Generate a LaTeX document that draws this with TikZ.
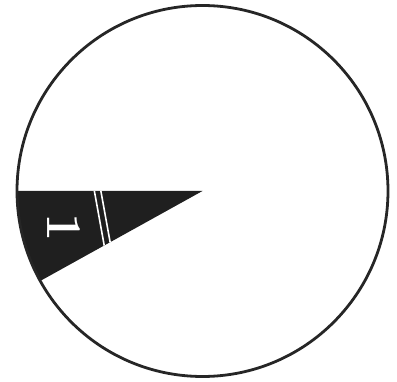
\documentclass[tikz,border=0pt]{standalone}
\usepackage{fontspec}
\begin{document}
\begin{tikzpicture}[x=1pt,y=1pt,
  rim/.style={draw=black!85,line width=2.8pt},
  sector/.style={fill=black!88},
  breakline/.style={draw=white,line width=1.6pt},
  wedgelabel/.style={text=white,font=\bfseries\fontsize{50}{50}\selectfont,rotate=-90,inner sep=0pt}]
\useasboundingbox (0,0) rectangle (397,381);
\coordinate (c) at (202.5,190);
\fill[sector] (c) -- ++(180:185.5) arc (180:209:185.5) -- cycle;
\begin{scope}
  \clip (c) -- ++(180:185.5) arc (180:209:185.5) -- cycle;
  \draw[breakline] (94,192) -- (104.5,134);
  \draw[breakline] (100.5,192) -- (111,134);
\end{scope}
\draw[rim] (c) circle (185.5);
\node[wedgelabel] (lbl) at (64,153) {1};
\end{tikzpicture}
\end{document}
